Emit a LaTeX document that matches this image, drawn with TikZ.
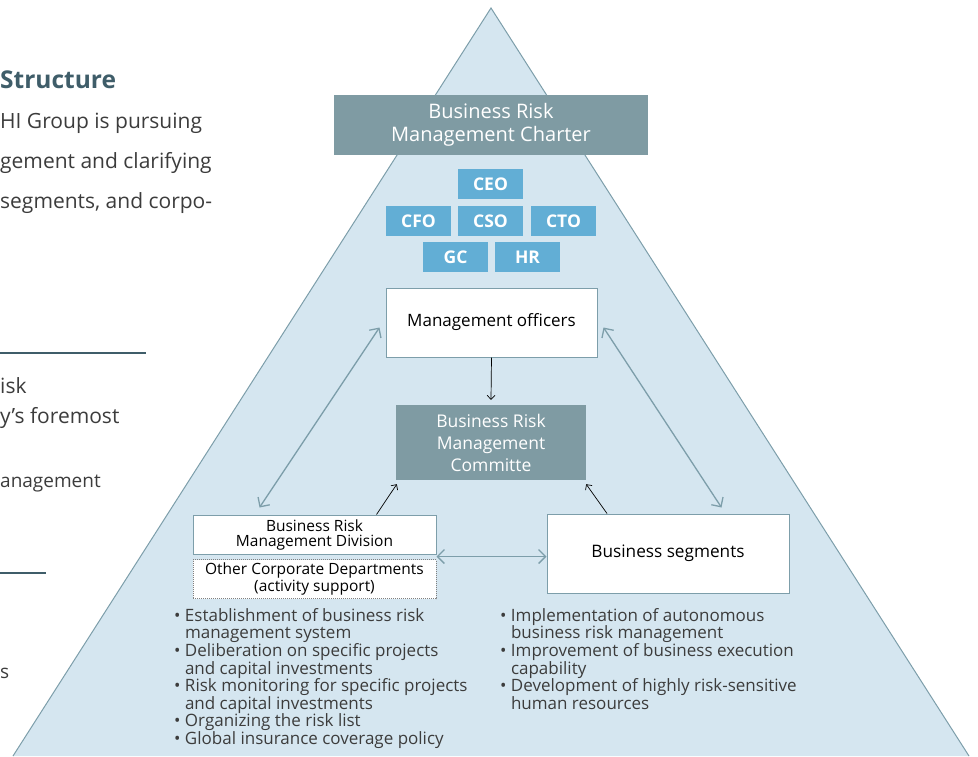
\documentclass[tikz,border=0pt]{standalone}
\usepackage{fontspec}
\setmainfont{Open Sans}
\usetikzlibrary{arrows.meta}
\definecolor{trifill}{HTML}{D5E6F0}
\definecolor{triline}{HTML}{7D9EAA}
\definecolor{charter}{HTML}{7F9BA3}
\definecolor{officer}{HTML}{62AED5}
\definecolor{bodytext}{HTML}{3C3C3C}
\definecolor{heading}{HTML}{3F5D69}
\tikzset{
  darkbox/.style={fill=charter,text=white,inner sep=0pt,align=center},
  rolebox/.style={fill=officer,text=white,inner sep=0pt,minimum width=65pt,minimum height=30pt,font=\fontsize{17.5}{17.5}\selectfont\bfseries},
  whitebox/.style={fill=white,draw=triline,line width=1pt,inner sep=0pt,align=center,text=black},
  linkarrow/.style={draw=triline,line width=1.3pt,{Straight Barb[length=7pt,width=14pt]}-{Straight Barb[length=7pt,width=14pt]}},
  reportarrow/.style={draw=black,line width=0.7pt,-{Straight Barb[length=4pt,width=8pt]}},
  pagetext/.style={anchor=base west,inner sep=0pt,text=bodytext,font=\fontsize{21}{21}\selectfont},
  bullets/.style={anchor=north west,inner sep=0pt,align=left,text=bodytext,font=\fontsize{17}{17.6}\selectfont}
}
\begin{document}
\begin{tikzpicture}[x=1pt,y=-1pt]
    \useasboundingbox (0,0) rectangle (978,756);

    % testo della pagina a sinistra
    \node[pagetext,text=heading,font=\fontsize{24.5}{24.5}\selectfont\bfseries] (title) at (0,88) {Structure};
    \node[pagetext] (para1) at (0,128) {HI Group is pursuing};
    \node[pagetext] (para2) at (0,168) {gement and clarifying};
    \node[pagetext] (para3) at (0,208) {segments, and corpo-};
    \draw[heading,line width=1.5pt] (0,353) -- (146,353);
    \node[pagetext] (lead1) at (0,393) {isk};
    \node[pagetext] (lead2) at (0,423) {y’s foremost};
    \node[pagetext,font=\fontsize{19}{19}\selectfont] (lead3) at (0,487) {anagement};
    \draw[heading,line width=1.5pt] (0,573) -- (46,573);
    \node[pagetext,font=\fontsize{19}{19}\selectfont] (lead4) at (0,678) {s};

    % piramide
    \fill[trifill] (491,8) -- (13,756) -- (969,756) -- cycle;
    \draw[triline,line width=1pt] (13,756) -- (491,8) -- (969,756);

    % carta
    \node[darkbox,minimum width=314pt,minimum height=60pt,font=\fontsize{20}{23}\selectfont] (charter) at (491,125) {Business Risk\\Management Charter};

    % officer
    \node[rolebox] (ceo) at (490.5,184) {CEO};
    \node[rolebox] (cfo) at (418.5,221) {CFO};
    \node[rolebox] (cso) at (490.5,221) {CSO};
    \node[rolebox] (cto) at (563.5,221) {CTO};
    \node[rolebox] (gc) at (455.5,257) {GC};
    \node[rolebox] (hr) at (527.5,257) {HR};

    % riquadri
    \node[whitebox,minimum width=211pt,minimum height=69pt,font=\fontsize{17}{17}\selectfont] (officers) at (491.5,322.5) {Management officers};
    \node[darkbox,minimum width=190pt,minimum height=75pt,font=\fontsize{17.5}{22}\selectfont] (committee) at (491,442.5) {Business Risk\\Management\\Committe};
    \node[whitebox,minimum width=243pt,minimum height=39pt,font=\fontsize{15.5}{15}\selectfont] (division) at (314.5,534.5) {Business Risk\\Management Division};
    \node[whitebox,draw=gray,densely dotted,line width=0.6pt,minimum width=243pt,minimum height=39pt,font=\fontsize{15.5}{15}\selectfont] (other) at (314.5,579) {Other Corporate Departments\\(activity support)};
    \node[whitebox,minimum width=242pt,minimum height=79pt,font=\fontsize{17.2}{17.2}\selectfont] (segments) at (668,553.5) {Business segments};

    % frecce
    \draw[reportarrow] (officers.south) -- ([yshift=5pt]committee.north);
    \draw[reportarrow] ([xshift=62pt]division.north) -- ([xshift=1pt,yshift=-4pt]committee.south west);
    \draw[reportarrow] ([xshift=-61pt]segments.north) -- ([yshift=-4pt]committee.south east);
    \draw[linkarrow] ([xshift=-6pt,yshift=-5pt]officers.west) -- ([xshift=67pt,yshift=7pt]division.north west);
    \draw[linkarrow] ([xshift=6pt,yshift=-5pt]officers.east) -- ([xshift=-68pt,yshift=6pt]segments.north east);
    \draw[linkarrow] ([yshift=-2pt]division.south east) -- ([yshift=-2pt]division.south east -| segments.west);

    % elenchi
    \node[bullets] (divtasks) at (174,608) {%
      • Establishment of business risk\\
      \phantom{• }management system\\
      • Deliberation on specific projects\\
      \phantom{• }and capital investments\\
      • Risk monitoring for specific projects\\
      \phantom{• }and capital investments\\
      • Organizing the risk list\\
      • Global insurance coverage policy};
    \node[bullets] (segtasks) at (500,608) {%
      • Implementation of autonomous\\
      \phantom{• }business risk management\\
      • Improvement of business execution\\
      \phantom{• }capability\\
      • Development of highly risk-sensitive\\
      \phantom{• }human resources};
\end{tikzpicture}
\end{document}
